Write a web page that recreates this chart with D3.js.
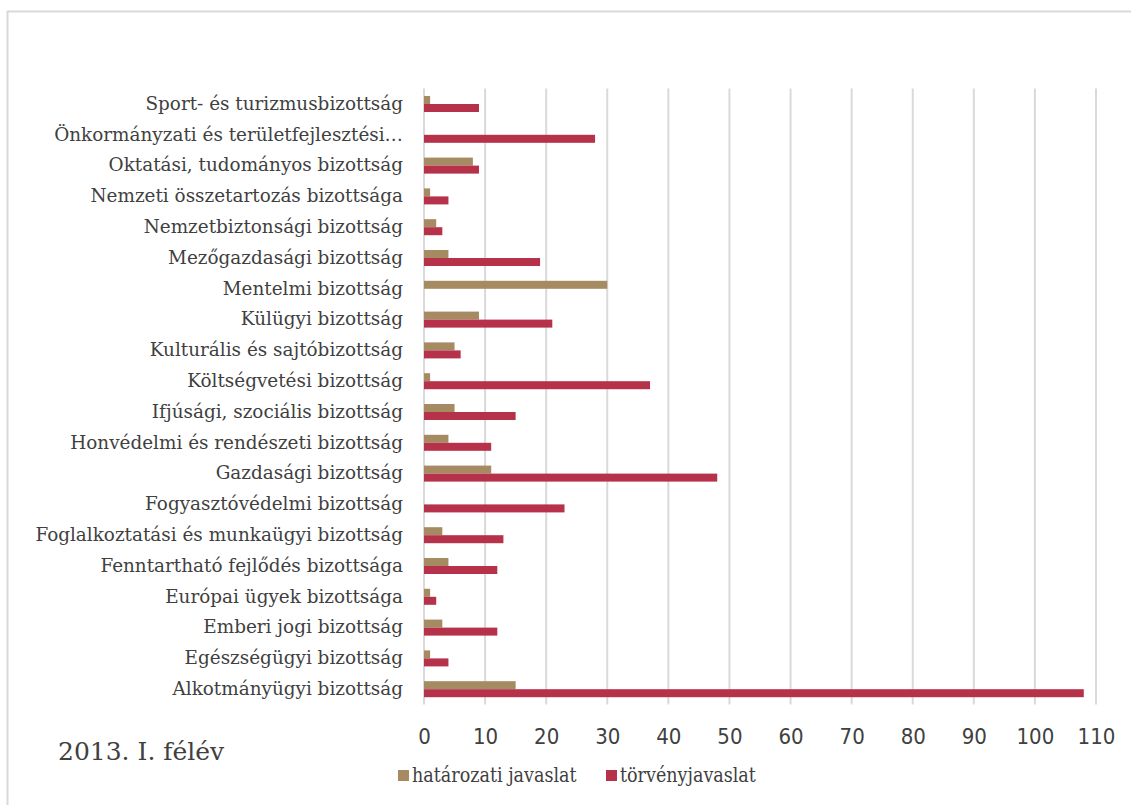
<!DOCTYPE html>
<html>
<head>
<meta charset="utf-8">
<script src="https://cdn.jsdelivr.net/npm/d3@7"></script>
<style>
  body { margin: 0; background: #fff; }
</style>
</head>
<body>
<div id="chart"></div>
<script>
// categories, bottom to top (Excel order)
var categories = [
  "Alkotmányügyi bizottság",
  "Egészségügyi bizottság",
  "Emberi jogi bizottság",
  "Európai ügyek bizottsága",
  "Fenntartható fejlődés bizottsága",
  "Foglalkoztatási és munkaügyi bizottság",
  "Fogyasztóvédelmi bizottság",
  "Gazdasági bizottság",
  "Honvédelmi és rendészeti bizottság",
  "Ifjúsági, szociális bizottság",
  "Költségvetési bizottság",
  "Kulturális és sajtóbizottság",
  "Külügyi bizottság",
  "Mentelmi bizottság",
  "Mezőgazdasági bizottság",
  "Nemzetbiztonsági bizottság",
  "Nemzeti összetartozás bizottsága",
  "Oktatási, tudományos bizottság",
  "Önkormányzati és területfejlesztési…",
  "Sport- és turizmusbizottság"
];
var hatarozati = [15, 1, 3, 1, 4, 3, 0, 11, 4, 5, 1, 5, 9, 30, 4, 2, 1, 8, 0, 1];
var torveny    = [108, 4, 12, 2, 12, 13, 23, 48, 11, 15, 37, 6, 21, 0, 19, 3, 4, 9, 28, 9];
var seriesNames = ["határozati javaslat", "törvényjavaslat"];
var seriesColors = ["#A68B62", "#B5324A"];
var xTicks = [0, 10, 20, 30, 40, 50, 60, 70, 80, 90, 100, 110];
var subtitle = "2013. I. félév";

var width = 1131, height = 805;
var textColor = "#404040";
var gridColor = "#D9D9D9";

var svg = d3.select("#chart").append("svg")
    .attr("width", width)
    .attr("height", height);

// outer chart frame (right and bottom edges fall outside the picture)
svg.append("rect")
    .attr("x", 7.5).attr("y", 11.5)
    .attr("width", 1400).attr("height", 1000)
    .attr("fill", "none")
    .attr("stroke", gridColor)
    .attr("stroke-width", 2);

var plot = {left: 424, right: 1096, top: 88.6, bottom: 704.6};

var x = d3.scaleLinear().domain([0, 110]).range([plot.left, plot.right]);
var y = d3.scaleBand()
    .domain(categories)
    .range([plot.bottom, plot.top])
    .paddingInner(0.48)
    .paddingOuter(0.24);
var ySub = d3.scaleBand().domain(seriesNames).range([0, y.bandwidth()]);

// gridlines
svg.append("g")
  .selectAll("line")
  .data(xTicks)
  .enter().append("line")
    .attr("x1", function(d) { return x(d); })
    .attr("x2", function(d) { return x(d); })
    .attr("y1", plot.top)
    .attr("y2", plot.bottom)
    .attr("stroke", gridColor)
    .attr("stroke-width", 2);

// bars
var rows = categories.map(function(c, i) {
  return {name: c, values: [hatarozati[i], torveny[i]]};
});

var group = svg.selectAll(".row")
    .data(rows)
  .enter().append("g")
    .attr("class", "row")
    .attr("transform", function(d) { return "translate(0," + y(d.name) + ")"; });

group.selectAll("rect")
    .data(function(d) { return d.values.map(function(v, k) { return {series: seriesNames[k], k: k, value: v}; }); })
  .enter().append("rect")
    .attr("x", x(0))
    .attr("y", function(d) { return ySub(d.series); })
    .attr("width", function(d) { return x(d.value) - x(0); })
    .attr("height", ySub.bandwidth())
    .attr("fill", function(d) { return seriesColors[d.k]; });

// category labels
var yAxis = d3.axisLeft(y).tickSize(0).tickPadding(21);
var gy = svg.append("g")
    .attr("transform", "translate(" + plot.left + ",0)")
    .call(yAxis);
gy.select(".domain").remove();
gy.selectAll("text")
    .attr("fill", textColor)
    .style("font-family", "'DejaVu Serif', Georgia, serif")
    .style("font-size", "18.4px");

// x axis tick labels
var xAxis = d3.axisBottom(x).tickValues(xTicks).tickSize(0).tickPadding(0);
var gx = svg.append("g")
    .attr("transform", "translate(0,728)")
    .call(xAxis);
gx.select(".domain").remove();
gx.selectAll("text")
    .attr("fill", textColor)
    .style("font-family", "'DejaVu Sans Condensed', 'DejaVu Sans', sans-serif")
    .style("font-stretch", "condensed")
    .style("font-size", "22px");

// subtitle
svg.append("text")
    .attr("x", 58).attr("y", 760)
    .attr("fill", textColor)
    .style("font-family", "'DejaVu Serif', Georgia, serif")
    .style("font-size", "25px")
    .text(subtitle);

// legend
var legendX = [398, 606];
var legend = svg.selectAll(".legend")
    .data(seriesNames)
  .enter().append("g")
    .attr("class", "legend")
    .attr("transform", function(d, i) { return "translate(" + legendX[i] + ",770)"; });

legend.append("rect")
    .attr("width", 11)
    .attr("height", 11)
    .attr("fill", function(d, i) { return seriesColors[i]; });

legend.append("text")
    .attr("x", 14)
    .attr("y", 12)
    .attr("fill", textColor)
    .style("font-family", "'DejaVu Serif Condensed', 'DejaVu Serif', serif")
    .style("font-stretch", "condensed")
    .style("font-size", "19.5px")
    .text(function(d) { return d; });
</script>
</body>
</html>
